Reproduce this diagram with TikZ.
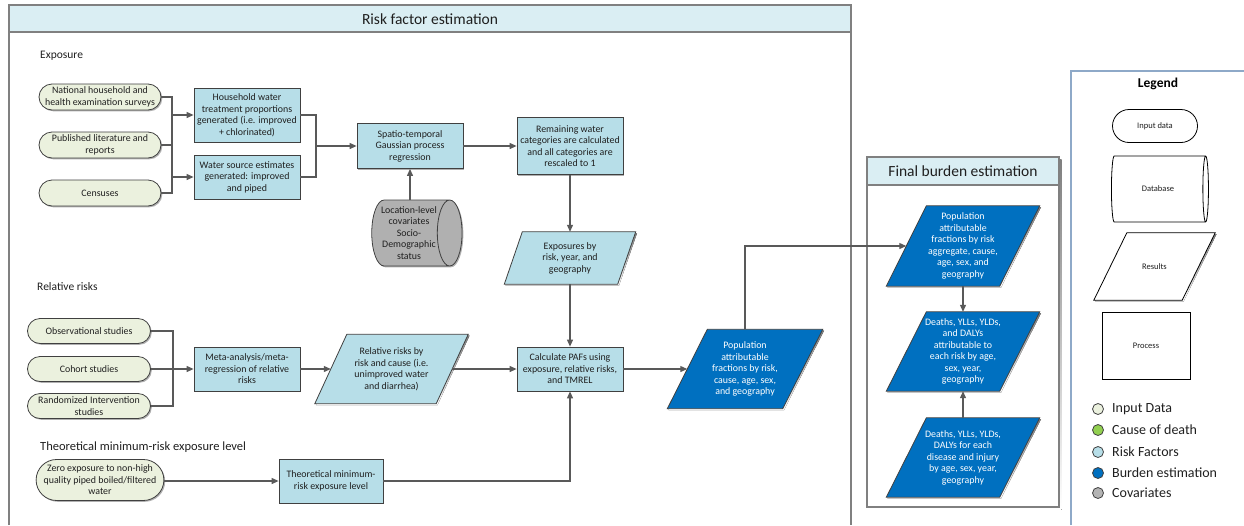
\documentclass[tikz,border=0pt]{standalone}
\usepackage{fontspec}
\setmainfont{Carlito}
\usetikzlibrary{arrows.meta,shapes.misc,shapes.geometric,shadows}

\definecolor{edge}{HTML}{404040}
\definecolor{wire}{HTML}{595959}
\definecolor{ink}{HTML}{1F1F1F}
\definecolor{inputfill}{HTML}{EBF1DE}
\definecolor{riskfill}{HTML}{B7DEE8}
\definecolor{burdenfill}{HTML}{0070C0}
\definecolor{covfill}{HTML}{B4B4B4}
\definecolor{causefill}{HTML}{92D050}
\definecolor{headfill}{HTML}{DAEEF3}
\definecolor{framegray}{HTML}{808080}
\definecolor{legendline}{HTML}{8EA9C8}
\definecolor{shade}{HTML}{B0B0B0}

\pgfdeclarelayer{frames}
\pgfdeclarelayer{shapes}
\pgfsetlayers{frames,shapes,main}

\newcommand\boxfont{\fontsize{9.9}{11.5}\selectfont}
\newcommand\smallfont{\fontsize{8.5}{10}\selectfont}
\newcommand\titlefont{\fontsize{15.5}{18}\selectfont}
\newcommand\sectfont{\fontsize{11.5}{14}\selectfont}
\newcommand\keyfont{\fontsize{14}{16}\selectfont}

% parallelogram drawn behind a (borderless) text node; #2 = horizontal slant
\newcommand\slantfill[4]{%
  \begin{pgfonlayer}{shapes}
    \fill[shade]
      ([xshift=#2*0.5pt+1.3pt,yshift=-1.3pt]#1.north west) --
      ([xshift=#2*0.5pt+1.3pt,yshift=-1.3pt]#1.north east) --
      ([xshift=-#2*0.5pt+1.3pt,yshift=-1.3pt]#1.south east) --
      ([xshift=-#2*0.5pt+1.3pt,yshift=-1.3pt]#1.south west) -- cycle;
    \filldraw[fill=#3,draw=#4,line width=0.8pt,line join=miter]
      ([xshift=#2*0.5pt]#1.north west) --
      ([xshift=#2*0.5pt]#1.north east) --
      ([xshift=-#2*0.5pt]#1.south east) --
      ([xshift=-#2*0.5pt]#1.south west) -- cycle;
  \end{pgfonlayer}}

\tikzset{
  softshadow/.style={drop shadow={shadow xshift=1.3pt,shadow yshift=-1.3pt,fill=shade,opacity=1}},
  basebox/.style={draw=edge,line width=0.8pt,text=ink,font=\boxfont,align=center,inner sep=1pt},
  inputbox/.style={basebox,rounded rectangle,fill=inputfill,softshadow},
  riskbox/.style={basebox,rectangle,fill=riskfill,softshadow},
  slantbox/.style={font=\boxfont,align=center,inner sep=0pt,text=ink},
  burdentext/.style={slantbox,text=white},
  wireline/.style={draw=wire,line width=1.1pt},
  flow/.style={wireline,-{Triangle[length=7pt,width=6pt]}},
  sectionlabel/.style={anchor=west,inner sep=0pt,text=ink,font=\sectfont},
  keydot/.style={circle,draw=edge,line width=0.8pt,minimum size=11pt,inner sep=0pt},
  keytext/.style={anchor=west,inner sep=0pt,text=ink,font=\keyfont},
  legendshape/.style={draw=black,line width=0.8pt,fill=white,text=ink,font=\smallfont,align=center,inner sep=1pt},
  % lying cylinder: "minimum height" runs along the axis, "minimum width" across it
  drum/.style={cylinder,shape border rotate=0,aspect=0.7}
}

\begin{document}
\begin{tikzpicture}[x=1pt,y=-1pt]
\useasboundingbox (0,0) rectangle (1244,525);

% ---------- frames ----------
\begin{pgfonlayer}{frames}
  \fill[headfill] (9,5) rectangle (851,32);
  \draw[framegray,line width=1.4pt] (9,525) -- (9,5) -- (851,5) -- (851,525);
  \draw[framegray,line width=1.2pt] (9,32) -- (851,32);
  \fill[shade] (869.5,159.5) rectangle (1061.5,509.5);
  \filldraw[fill=white,draw=framegray,line width=1.2pt] (867,157) rectangle (1059,507);
  \filldraw[fill=headfill,draw=framegray,line width=1.2pt] (867,157) rectangle (1059,185);
  \draw[legendline,line width=1.2pt] (1071,525) -- (1071,71) -- (1244,71);
\end{pgfonlayer}

\node[font=\titlefont,text=ink] (rftitle) at (430,19) {Risk factor estimation};
\node[font=\titlefont,text=ink] (fbtitle) at (963,171) {Final burden estimation};

% ---------- exposure ----------
\node[sectionlabel] (lblexp) at (40,56) {Exposure};

\node[inputbox,minimum width=124pt,minimum height=26pt] (nat) at (100,97) {National household and\\health examination surveys};
\node[inputbox,minimum width=124pt,minimum height=26pt] (pub) at (100,145) {Published literature and\\reports};
\node[inputbox,minimum width=124pt,minimum height=26pt] (cen) at (100,193) {Censuses};

\node[riskbox,minimum width=106pt,minimum height=54pt] (hh) at (247,115) {Household water\\treatment proportions\\generated (i.e. improved\\+ chlorinated)};
\node[riskbox,minimum width=106pt,minimum height=44pt] (ws) at (247,177) {Water source estimates\\generated: improved\\and piped};
\node[riskbox,minimum width=106pt,minimum height=45pt] (stgpr) at (410,146) {Spatio-temporal\\Gaussian process\\regression};
\node[riskbox,minimum width=106pt,minimum height=57pt] (rem) at (570,146) {Remaining water\\categories are calculated\\and all categories are\\rescaled to 1};

\node[basebox,drum,aspect=0.45,inner xsep=0pt,minimum height=84pt,minimum width=66pt,
      cylinder uses custom fill,cylinder body fill=covfill,cylinder end fill=covfill,softshadow] (cov) at (409,233)
      {Location-level\\covariates\\Socio-\\Demographic\\status};

\node[slantbox,minimum width=113pt,minimum height=52pt] (expo) at (570,258) {Exposures by\\risk, year, and\\geography};
\slantfill{expo}{18}{riskfill}{edge}

\coordinate (busA) at (172,0);
\coordinate (busB) at (316,0);
\draw[wireline] (nat.east) -- (nat.east -| busA) -- (cen.east -| busA) -- (cen.east);
\draw[wireline] (pub.east) -- (pub.east -| busA);
\draw[flow] (hh.west -| busA) -- (hh.west);
\draw[flow] (ws.west -| busA) -- (ws.west);
\draw[wireline] (hh.east) -- (hh.east -| busB) -- (ws.east -| busB) -- (ws.east);
\draw[flow] (stgpr.west -| busB) -- (stgpr.west);
\draw[flow] (stgpr.east) -- (rem.west);
\draw[flow] (stgpr.south |- cov.north) -- (stgpr.south);
\draw[flow] (rem.south) -- (expo.north);

% ---------- relative risks ----------
\node[sectionlabel] (lblrr) at (37,287) {Relative risks};

\node[inputbox,minimum width=125pt,minimum height=25pt] (obs) at (89,331) {Observational studies};
\node[inputbox,minimum width=125pt,minimum height=25pt] (coh) at (89,369) {Cohort studies};
\node[inputbox,minimum width=125pt,minimum height=25pt] (rnd) at (89,406) {Randomized Intervention\\studies};

\node[riskbox,minimum width=106pt,minimum height=44pt] (meta) at (247,369) {Meta-analysis/meta-\\regression of relative\\risks};
\node[slantbox,minimum width=121pt,minimum height=69pt] (rr) at (391.5,369) {Relative risks by\\risk and cause (i.e.\\unimproved water\\and diarrhea)};
\slantfill{rr}{32}{riskfill}{edge}
\node[riskbox,minimum width=106pt,minimum height=44pt] (paf) at (570,369) {Calculate PAFs using\\exposure, relative risks,\\and TMREL};
\node[burdentext,minimum width=115pt,minimum height=79pt] (pop) at (745,369) {Population\\attributable\\fractions by risk,\\cause, age, sex,\\and geography};
\slantfill{pop}{40}{burdenfill}{edge}

\coordinate (busC) at (173,0);
\draw[wireline] (obs.east) -- (obs.east -| busC) -- (rnd.east -| busC) -- (rnd.east);
\draw[wireline] (coh.east) -- (coh.east -| busC);
\draw[flow] (meta.west -| busC) -- (meta.west);
\draw[flow] (meta.east) -- (rr.west);
\draw[flow] (rr.east) -- (paf.west);
\draw[flow] (rem.south |- expo.south) -- (paf.north);
\draw[flow] (paf.east) -- (pop.west);

% ---------- TMREL ----------
\node[sectionlabel,font=\fontsize{12.5}{15}\selectfont] (lbltm) at (40,447) {Theoretical minimum-risk exposure level};
\node[inputbox,minimum width=125pt,minimum height=41pt] (zero) at (100,480) {Zero exposure to non-high\\quality piped boiled/filtered\\water};
\node[riskbox,minimum width=104pt,minimum height=44pt] (tm) at (331,481) {Theoretical minimum-\\risk exposure level};
\draw[flow] (zero.east |- tm.west) -- (tm.west);
\draw[flow] (tm.east) -| (paf.south);

% ---------- final burden ----------
\node[burdentext,minimum width=113pt,minimum height=80pt] (f1) at (963,246) {Population\\attributable\\fractions by risk\\aggregate, cause,\\age, sex, and\\geography};
\slantfill{f1}{40}{burdenfill}{edge}
\node[burdentext,minimum width=113pt,minimum height=79pt] (f2) at (963,351.5) {Deaths, YLLs, YLDs,\\and DALYs\\attributable to\\each risk by age,\\sex, year,\\geography};
\slantfill{f2}{40}{burdenfill}{edge}
\node[burdentext,minimum width=113pt,minimum height=79pt] (f3) at (963,457.5) {Deaths, YLLs, YLDs,\\DALYs for each\\disease and injury\\by age, sex, year,\\geography};
\slantfill{f3}{40}{burdenfill}{edge}

\draw[flow] (pop.north) |- (f1.west);
\draw[flow] (f1.south) -- (f2.north);
\draw[flow] (f3.north) -- (f2.south);

% ---------- legend ----------
\node[font=\fontsize{13.5}{16}\selectfont\bfseries,text=black] (legtitle) at (1158,84) {Legend};
\node[legendshape,rounded rectangle,minimum width=87pt,minimum height=33pt] (lin) at (1155,126) {Input data};
\node[legendshape,drum,minimum height=97pt,minimum width=66pt] (ldb) at (1158,189) {Database};
\node[slantbox,font=\smallfont,minimum width=88pt,minimum height=67pt] (lres) at (1154.5,266.5) {Results};
\slantfill{lres}{33}{white}{black}
\node[legendshape,rectangle,minimum width=88pt,minimum height=67pt] (lproc) at (1146,345.5) {Process};

\node[keydot,fill=inputfill] (k1) at (1098,409) {};
\node[keytext] (t1) at (1112,409) {Input Data};
\node[keydot,fill=causefill] (k2) at (1098,430) {};
\node[keytext] (t2) at (1112,430) {Cause of death};
\node[keydot,fill=riskfill] (k3) at (1098,452) {};
\node[keytext] (t3) at (1112,452) {Risk Factors};
\node[keydot,fill=burdenfill] (k4) at (1098,473) {};
\node[keytext] (t4) at (1112,473) {Burden estimation};
\node[keydot,fill=covfill] (k5) at (1098,493) {};
\node[keytext] (t5) at (1112,493) {Covariates};

\end{tikzpicture}
\end{document}
